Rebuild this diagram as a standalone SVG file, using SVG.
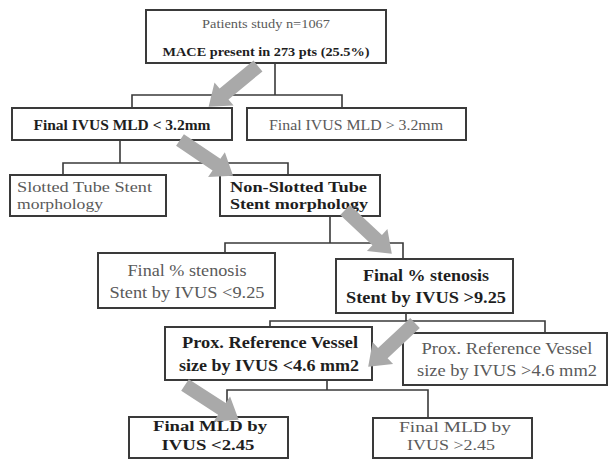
<svg xmlns="http://www.w3.org/2000/svg" xmlns:xlink="http://www.w3.org/1999/xlink" width="610" height="461" viewBox="0 0 610 461">
<style>
.box{fill:#fff;stroke:#3a3a3a;stroke-width:2}
.ln{fill:none;stroke:#3a3a3a;stroke-width:1.6}
.arr{fill:#a9a9a9}
text{font-family:"Liberation Serif","Times New Roman",serif;}
.b{font-weight:bold;fill:#1e1e1e}
.n{fill:#5a5a5a}
.c{text-anchor:middle}
.s13{font-size:13px}
.s15{font-size:15.5px}
.s14{font-size:14.5px}
.s17{font-size:17px}
</style>
<defs>
<path id="arrow" d="M0,-7 H44 V-15 L64,0 L44,15 V7 H0 Z"/>
</defs>
<rect width="610" height="461" fill="#fff"/>
<g id="connectors">
<path class="ln" d="M275,63 V95 M132,108 V95 H342 V108"/>
<path class="ln" d="M120,140 V163 M63,175 V163 H288 V175"/>
<path class="ln" d="M330,216 V243 M225,253 V243 H403 V259"/>
<path class="ln" d="M406,313 V321 M270,327 V321 H545 V333"/>
<path class="ln" d="M327,380 V390 M227,417 V390 H428 V418"/>
</g>
<g id="n_top">
<rect class="box" x="146" y="10" width="240" height="53"/>
<text class="n c s13" x="266" y="28" textLength="128" lengthAdjust="spacingAndGlyphs">Patients study n=1067</text>
<text class="b c s13" x="266" y="56" textLength="207" lengthAdjust="spacingAndGlyphs">MACE present in 273 pts (25.5%)</text>
</g>
<g id="n_mld_lt">
<rect class="box" x="12" y="108" width="220" height="32"/>
<text class="b c s15" x="122" y="130" textLength="177" lengthAdjust="spacingAndGlyphs">Final IVUS MLD &lt; 3.2mm</text>
</g>
<g id="n_mld_gt">
<rect class="box" x="247" y="108" width="219" height="32"/>
<text class="n c s15" x="356" y="130" textLength="174" lengthAdjust="spacingAndGlyphs">Final IVUS MLD &gt; 3.2mm</text>
</g>
<g id="n_slotted">
<rect class="box" x="10" y="175" width="156" height="41"/>
<text class="n s14" x="17" y="192" textLength="135" lengthAdjust="spacingAndGlyphs">Slotted Tube Stent</text>
<text class="n s14" x="17" y="209" textLength="86" lengthAdjust="spacingAndGlyphs">morphology</text>
</g>
<g id="n_nonslotted">
<rect class="box" x="220" y="175" width="160" height="41"/>
<text class="b s14" x="230" y="192" textLength="137" lengthAdjust="spacingAndGlyphs">Non-Slotted Tube</text>
<text class="b s14" x="230" y="209" textLength="138" lengthAdjust="spacingAndGlyphs">Stent morphology</text>
</g>
<g id="n_sten_lt">
<rect class="box" x="98" y="253" width="177" height="55"/>
<text class="n c s17" x="187" y="276" textLength="119" lengthAdjust="spacingAndGlyphs">Final % stenosis</text>
<text class="n c s17" x="187" y="298" textLength="155" lengthAdjust="spacingAndGlyphs">Stent by IVUS &lt;9.25</text>
</g>
<g id="n_sten_gt">
<rect class="box" x="336" y="259" width="177" height="54"/>
<text class="b c s17" x="426" y="281" textLength="126" lengthAdjust="spacingAndGlyphs">Final % stenosis</text>
<text class="b c s17" x="426" y="303" textLength="160" lengthAdjust="spacingAndGlyphs">Stent by IVUS &gt;9.25</text>
</g>
<g id="n_prox_lt">
<rect class="box" x="165" y="327" width="207" height="53"/>
<text class="b c s17" x="270" y="348" textLength="176" lengthAdjust="spacingAndGlyphs">Prox. Reference Vessel</text>
<text class="b c s17" x="269" y="371" textLength="180" lengthAdjust="spacingAndGlyphs">size by IVUS &lt;4.6 mm2</text>
</g>
<g id="n_prox_gt">
<rect class="box" x="403" y="333" width="204" height="52"/>
<text class="n c s17" x="507" y="354" textLength="171" lengthAdjust="spacingAndGlyphs">Prox. Reference Vessel</text>
<text class="n c s17" x="507" y="376" textLength="180" lengthAdjust="spacingAndGlyphs">size by IVUS &gt;4.6 mm2</text>
</g>
<g id="n_final_lt">
<rect class="box" x="129" y="417" width="159" height="41"/>
<text class="b c s14" x="210" y="431" textLength="114" lengthAdjust="spacingAndGlyphs">Final MLD by</text>
<text class="b c s14" x="208" y="450" textLength="93" lengthAdjust="spacingAndGlyphs">IVUS &lt;2.45</text>
</g>
<g id="n_final_gt">
<rect class="box" x="373" y="418" width="159" height="40"/>
<text class="n c s14" x="455" y="432" textLength="112" lengthAdjust="spacingAndGlyphs">Final MLD by</text>
<text class="n c s14" x="451" y="450" textLength="88" lengthAdjust="spacingAndGlyphs">IVUS &gt;2.45</text>
</g>
<g id="arrows" class="arr">
<use xlink:href="#arrow" transform="translate(258,66) rotate(140.5)"/>
<use xlink:href="#arrow" transform="translate(180,140) rotate(34)"/>
<use xlink:href="#arrow" transform="translate(345,210) rotate(43)"/>
<use xlink:href="#arrow" transform="translate(415,323) rotate(137)"/>
<use xlink:href="#arrow" transform="translate(185,385) rotate(33)"/>
</g>
</svg>
